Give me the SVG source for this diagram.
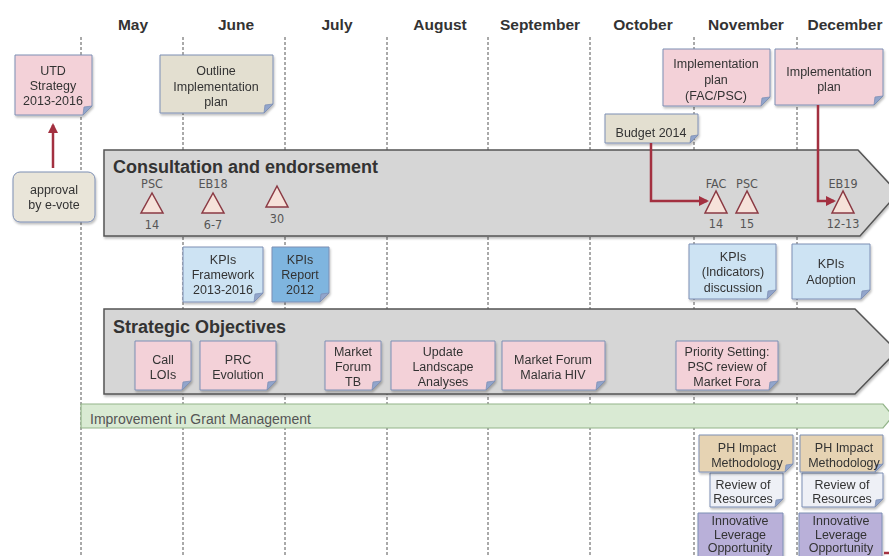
<svg xmlns="http://www.w3.org/2000/svg" width="889" height="556" viewBox="0 0 889 556">
<style>
.month{font-family:"Liberation Sans",Arial,sans-serif;font-weight:bold;font-size:15.5px;fill:#333;text-anchor:middle}
.grid{stroke:#555;stroke-width:1;stroke-dasharray:3 2;fill:none}
.band{fill:#d6d6d6;stroke:#555;stroke-width:1.5}
.btitle{font-family:"Liberation Sans",Arial,sans-serif;font-weight:bold;font-size:18px;fill:#333}
.note{stroke:#7d8fb5;stroke-width:1}
.fold{fill:#92a5cb;stroke:#7d8fb5;stroke-width:0.8}
.t{font-family:"Liberation Sans",Arial,sans-serif;font-size:12.5px;fill:#333;text-anchor:middle}
.pink{fill:#f3d1d8}.beige{fill:#e3dfd0}.lblue{fill:#cde3f3}.mblue{fill:#7fb5df}.tan{fill:#e6d3b3}.rev{fill:#eef0f6}.purple{fill:#b9b0d9}
.tri{fill:#f6e2da;stroke:#8b3a44;stroke-width:1.5}
.tl{font-family:"DejaVu Sans Condensed","DejaVu Sans",sans-serif;font-size:12.5px;fill:#555;text-anchor:middle}
.red{stroke:#a33040;stroke-width:2.5;fill:none}
</style>
<defs>
<filter id="sh" x="-5%" y="-5%" width="115%" height="125%"><feDropShadow dx="1" dy="2" stdDeviation="1.2" flood-color="#000" flood-opacity="0.25"/></filter>
<marker id="ah" viewBox="0 0 10 10" refX="8" refY="5" markerWidth="4" markerHeight="4" orient="auto-start-reverse"><path d="M0,0 L10,5 L0,10 Z" fill="#a33040"/></marker>
</defs>
<rect width="889" height="556" fill="#fff"/>

<g id="months">
<text class="month" x="133" y="30">May</text>
<text class="month" x="236" y="30">June</text>
<text class="month" x="337" y="30">July</text>
<text class="month" x="440" y="30">August</text>
<text class="month" x="540" y="30">September</text>
<text class="month" x="643" y="30">October</text>
<text class="month" x="746" y="30">November</text>
<text class="month" x="845" y="30">December</text>
</g>

<g id="gridlines">
<path class="grid" d="M81,37V556M183,37V556M285,37V556M387,37V556M488,37V556M590,37V556M694,37V556M797,37V556"/>
</g>

<g id="consultation-band">
<polygon class="band" filter="url(#sh)" points="104,150 858,150 898,193 860,236 104,236"/>
<text class="btitle" x="113" y="173">Consultation and endorsement</text>
</g>

<g id="strategic-band">
<polygon class="band" filter="url(#sh)" points="104,309 855,309 897,351 855,394 104,394"/>
<text class="btitle" x="113" y="333">Strategic Objectives</text>
</g>

<g id="grant-band">
<polygon points="81,404 883,404 893,416 883,428 81,428" fill="#d9ead3" stroke="#93b48a" stroke-width="1.2"/>
<text x="90" y="424" font-family="'Liberation Sans',Arial,sans-serif" font-size="14" fill="#555">Improvement in Grant Management</text>
</g>

<g id="milestones">
<text class="tl" x="152" y="188">PSC</text><polygon class="tri" points="152,193 141,213 163,213"/><text class="tl" x="152" y="229">14</text>
<text class="tl" x="213" y="188">EB18</text><polygon class="tri" points="213,193 202,213 224,213"/><text class="tl" x="213" y="229">6-7</text>
<polygon class="tri" points="277,186 266,207 288,207"/><text class="tl" x="277" y="223">30</text>
<text class="tl" x="716" y="188">FAC</text><polygon class="tri" points="716,191 705,213 727,213"/><text class="tl" x="716" y="228">14</text>
<text class="tl" x="747" y="188">PSC</text><polygon class="tri" points="747,191 736,213 758,213"/><text class="tl" x="747" y="228">15</text>
<text class="tl" x="843" y="188">EB19</text><polygon class="tri" points="843,191 832,213 854,213"/><text class="tl" x="843" y="228">12-13</text>
</g>

<g id="utd-strategy" filter="url(#sh)">
<path class="note pink" d="M15,55H92V106L83,115H15Z"/><path class="fold" d="M92,106L83,115L84,107Z"/>
<text class="t" x="53" y="75">UTD</text><text class="t" x="53" y="90">Strategy</text><text class="t" x="53" y="105">2013-2016</text>
</g>

<g id="approval" filter="url(#sh)">
<rect x="13" y="172" width="82" height="50" rx="7" fill="#e9e5d9" stroke="#7d8fb5"/>
<text class="t" x="54" y="194">approval</text><text class="t" x="54" y="209">by e-vote</text>
</g>

<g id="outline-plan" filter="url(#sh)">
<path class="note beige" d="M160,55H273V104L264,113H160Z"/><path class="fold" d="M273,104L264,113L265,105Z"/>
<text class="t" x="216" y="75">Outline</text><text class="t" x="216" y="91">Implementation</text><text class="t" x="216" y="106">plan</text>
</g>

<g id="impl-plan-fac" filter="url(#sh)">
<path class="note pink" d="M663,49H770V97L761,106H663Z"/><path class="fold" d="M770,97L761,106L762,98Z"/>
<text class="t" x="716" y="68">Implementation</text><text class="t" x="716" y="84">plan</text><text class="t" x="716" y="100">(FAC/PSC)</text>
</g>

<g id="impl-plan-dec" filter="url(#sh)">
<path class="note pink" d="M775,49H883V96L874,105H775Z"/><path class="fold" d="M883,96L874,105L875,97Z"/>
<text class="t" x="829" y="76">Implementation</text><text class="t" x="829" y="91">plan</text>
</g>

<g id="budget-2014" filter="url(#sh)">
<path class="note beige" d="M605,114H698V135L690,143H605Z"/><path class="fold" d="M698,135L690,143L691,136Z"/>
<text class="t" x="651" y="137">Budget 2014</text>
</g>

<g id="kpis-framework" filter="url(#sh)">
<path class="note lblue" d="M183,247H263V293L254,302H183Z"/><path class="fold" d="M263,293L254,302L255,294Z"/>
<text class="t" x="223" y="264">KPIs</text><text class="t" x="223" y="279">Framework</text><text class="t" x="223" y="294">2013-2016</text>
</g>

<g id="kpis-report" filter="url(#sh)">
<path class="note mblue" d="M272,247H329V293L320,302H272Z"/><path class="fold" d="M329,293L320,302L321,294Z"/>
<text class="t" x="300" y="264">KPIs</text><text class="t" x="300" y="279">Report</text><text class="t" x="300" y="294">2012</text>
</g>

<g id="kpis-indicators" filter="url(#sh)">
<path class="note lblue" d="M689,244H776V290L767,299H689Z"/><path class="fold" d="M776,290L767,299L768,291Z"/>
<text class="t" x="733" y="261">KPIs</text><text class="t" x="733" y="276">(Indicators)</text><text class="t" x="733" y="292">discussion</text>
</g>

<g id="kpis-adoption" filter="url(#sh)">
<path class="note lblue" d="M792,244H870V290L861,299H792Z"/><path class="fold" d="M870,290L861,299L862,291Z"/>
<text class="t" x="831" y="268">KPIs</text><text class="t" x="831" y="284">Adoption</text>
</g>

<g id="call-lois" filter="url(#sh)">
<path class="note pink" d="M135,341H191V381L182,390H135Z"/><path class="fold" d="M191,381L182,390L183,382Z"/>
<text class="t" x="163" y="364">Call</text><text class="t" x="163" y="379">LOIs</text>
</g>

<g id="prc-evolution" filter="url(#sh)">
<path class="note pink" d="M200,341H276V381L267,390H200Z"/><path class="fold" d="M276,381L267,390L268,382Z"/>
<text class="t" x="238" y="364">PRC</text><text class="t" x="238" y="379">Evolution</text>
</g>

<g id="market-forum-tb" filter="url(#sh)">
<path class="note pink" d="M325,341H381V381L372,390H325Z"/><path class="fold" d="M381,381L372,390L373,382Z"/>
<text class="t" x="353" y="356">Market</text><text class="t" x="353" y="371">Forum</text><text class="t" x="353" y="386">TB</text>
</g>

<g id="update-landscape" filter="url(#sh)">
<path class="note pink" d="M391,341H495V381L486,390H391Z"/><path class="fold" d="M495,381L486,390L487,382Z"/>
<text class="t" x="443" y="356">Update</text><text class="t" x="443" y="371">Landscape</text><text class="t" x="443" y="386">Analyses</text>
</g>

<g id="market-forum-malaria" filter="url(#sh)">
<path class="note pink" d="M502,341H605V381L596,390H502Z"/><path class="fold" d="M605,381L596,390L597,382Z"/>
<text class="t" x="553" y="364">Market Forum</text><text class="t" x="553" y="379">Malaria HIV</text>
</g>

<g id="priority-setting" filter="url(#sh)">
<path class="note pink" d="M676,341H778V381L769,390H676Z"/><path class="fold" d="M778,381L769,390L770,382Z"/>
<text class="t" x="727" y="356">Priority Setting:</text><text class="t" x="727" y="371">PSC review of</text><text class="t" x="727" y="386">Market Fora</text>
</g>

<g id="innovative-1" filter="url(#sh)">
<path class="note purple" d="M698,513H783V570H698Z"/>
<text class="t" x="740" y="525">Innovative</text><text class="t" x="740" y="539">Leverage</text><text class="t" x="740" y="552">Opportunity</text>
</g>
<g id="innovative-2" filter="url(#sh)">
<path class="note purple" d="M799,513H882V570H799Z"/>
<text class="t" x="841" y="525">Innovative</text><text class="t" x="841" y="539">Leverage</text><text class="t" x="841" y="552">Opportunity</text>
</g>

<g id="review-1" filter="url(#sh)">
<path class="note rev" d="M710,473H783V499L775,507H710Z"/><path class="fold" d="M783,499L775,507L776,500Z"/>
<text class="t" x="743" y="489">Review of</text><text class="t" x="743" y="503">Resources</text>
</g>
<g id="review-2" filter="url(#sh)">
<path class="note rev" d="M802,473H883V499L875,507H802Z"/><path class="fold" d="M883,499L875,507L876,500Z"/>
<text class="t" x="842" y="489">Review of</text><text class="t" x="842" y="503">Resources</text>
</g>

<g id="ph-impact-1" filter="url(#sh)">
<path class="note tan" d="M699,435H793V464L785,472H699Z"/><path class="fold" d="M793,464L785,472L786,465Z"/>
<text class="t" x="747" y="452">PH Impact</text><text class="t" x="747" y="467">Methodology</text>
</g>
<g id="ph-impact-2" filter="url(#sh)">
<path class="note tan" d="M800,435H883V464L875,472H800Z"/><path class="fold" d="M883,464L875,472L876,465Z"/>
<text class="t" x="844" y="452">PH Impact</text><text class="t" x="844" y="467">Methodology</text>
</g>

<g id="connectors">
<path class="red" d="M53,168V125" marker-end="url(#ah)"/>
<path class="red" d="M651,143V201H707" marker-end="url(#ah)"/>
<path class="red" d="M818,105V201H834" marker-end="url(#ah)"/>
<path class="red" d="M884,553H889"/>
</g>
</svg>
